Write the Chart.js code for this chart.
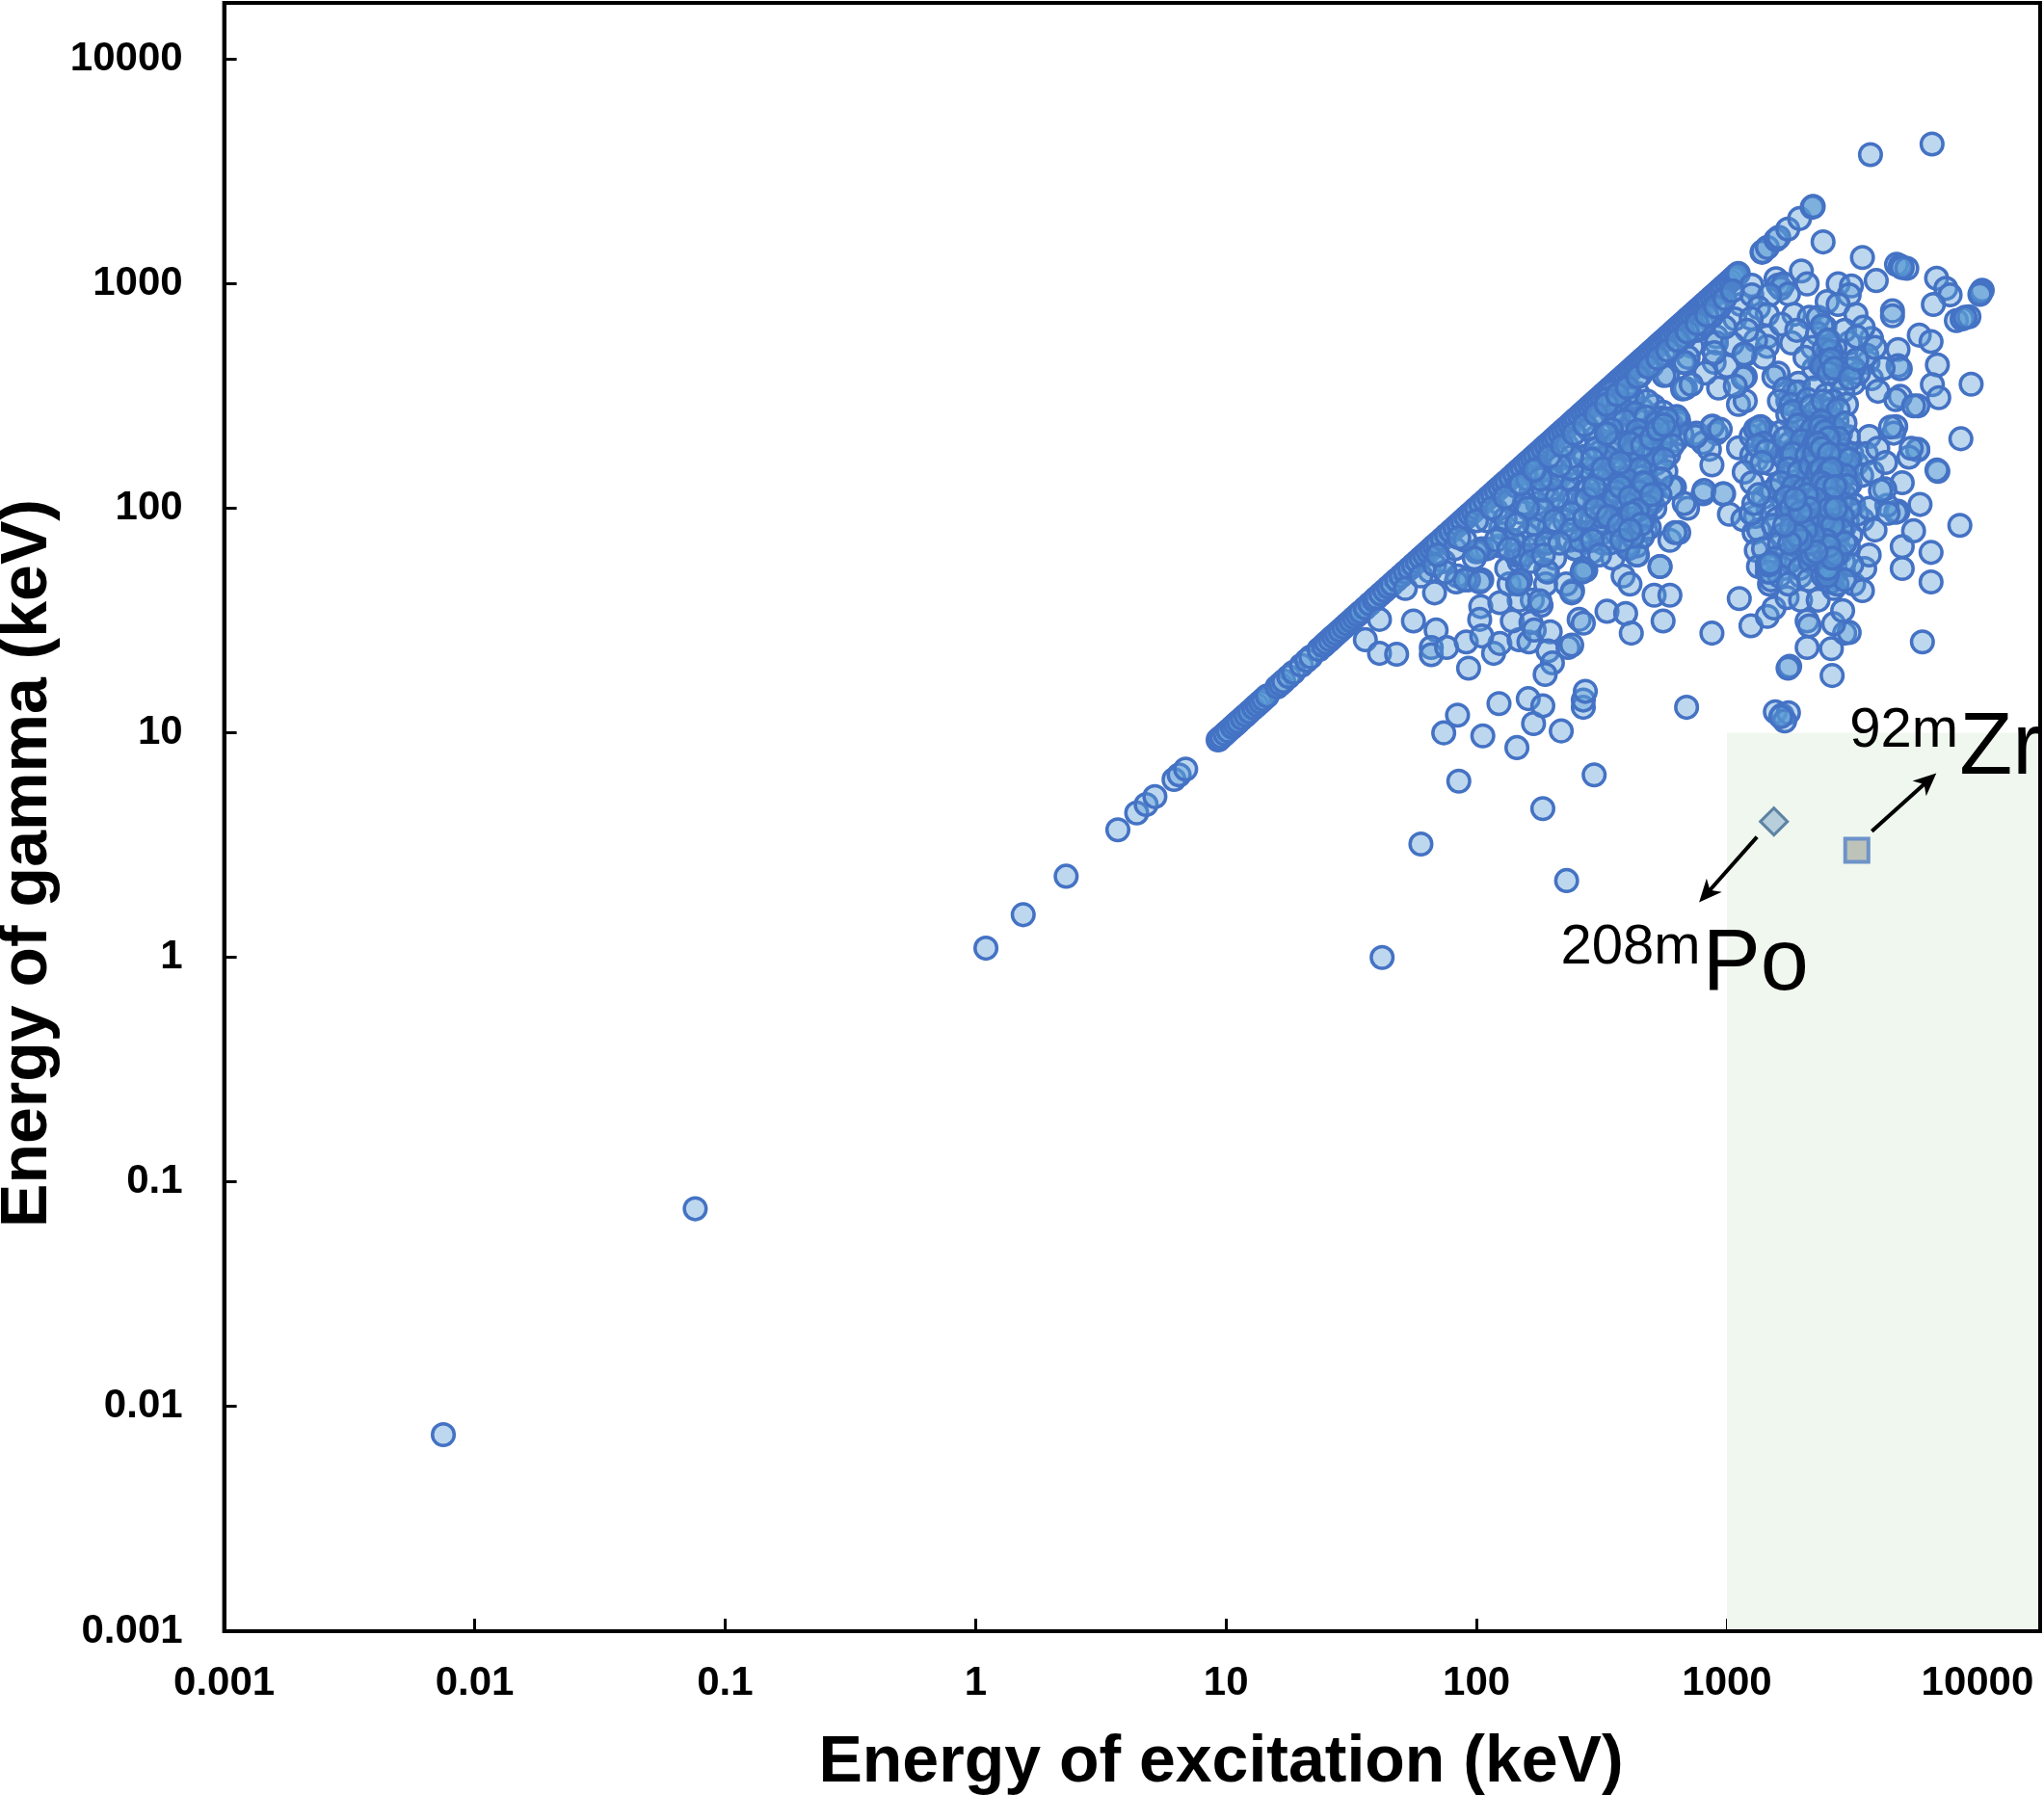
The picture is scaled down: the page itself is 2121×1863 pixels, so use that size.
<!DOCTYPE html>
<html>
<head>
<meta charset="utf-8">
<style>
  html, body { margin: 0; padding: 0; background: #fff; }
  canvas { display: block; }
</style>
<script src="https://cdn.jsdelivr.net/npm/chart.js@4/dist/chart.umd.min.js"></script>
</head>
<body>
<canvas id="chart" width="2121" height="1863"></canvas>
<script>
// axis ticks
const tickValues = [0.001, 0.01, 0.1, 1, 10, 100, 1000, 10000];
const tickLabels = ['0.001', '0.01', '0.1', '1', '10', '100', '1000', '10000'];
const axisMin = 0.001;
const axisMax = 17800;

// isomers with gamma = excitation, only one number each
const loneEnergy = [0.0075, 0.076, 1.1, 1.55, 2.3, 3.7, 4.4, 4.8, 5.2, 6.2, 6.5, 6.9];
const lineEnergy = [9.3,9.4,9.6,9.9,10.2,10.6,10.9,11.2,11.6,12,12.4,12.9,13.3,13.7,14.1,14.6,16,16.5,17,17.8,18.6,20,21,21.8,23.5,24.5,25.2,26,26.8,27.6,28.5,29.5,30.5,31.5,32.5,33.5,34.5,36,37.5,39,40,41.5,43,44.5,46,48,50,52,54,56,58,60,62,64,66,68,70,73,76,79,82,85,88,91,94,97,100,104,108,112,116,120,124,128,132,137,142,147,152,157,162,167,172,178,184,190,196,202,208,215,222,229,236,243,250,258,266,274,282,290,298,306,315,324,333,342,352,362,372,382,392,403,414,425,436,448,460,472,485,498,512,526,540,555,570,585,600,617,634,650,668,686,705,725,745,765,785,805,825,845,870,895,920,945,970,1000,1030,1060,1080,1100,1110,1380,1390,1450,1570,1610,1750,1950,2190,2200,2210];

// [excitation, gamma] in keV
const farDots = [[42,1],[60,3.2],[229,2.2],[184,4.6],[85,6.1],[295,6.5],[74,10],[106,9.7],[145,8.6],[218,10.2],[169,11],[84,12],[123,13.5],[161,14.2],[184,13.2],[267,13],[267,14],[272,15.3],[690,13],[1560,12.4],[1660,12],[1760,12.3],[1700,11.3],[1640,11.8],[1780,19.8],[2630,18],[6030,25.4]];

const lowerDots = [[41,32],[36,26],[41,22.6],[48,22.4],[56,31.5],[69,28.7],[66,24],[66,22.3],[76,24],[91,25.4],[117,22.6],[93,19.4],[124,25],[104,36.5],[103,32],[105,27],[148,26],[162,25.4],[139,31.5],[165,31],[170,28.7],[197,28.2],[193,23.2],[201,20.5],[188,18.2],[232,24],[240,24.6],[257,32],[267,30.8],[332,34.8],[394,34],[415,27.8],[556,31.5],[512,41],[592,41],[541,55],[871,27.8],[1120,39.6],[1247,30],[1449,33],[1541,36],[1738,40],[1967,39],[2090,31.5],[2133,30],[2090,24],[2612,23.7],[2951,27.8],[3076,28],[2667,30.6],[2313,39],[2897,35],[1754,19.4],[189,53],[189,46],[147,47],[135,46],[132,54],[148,58],[148,68],[124,68],[105,66],[105,48],[93,48],[84,50],[68,42],[65,52.5],[74,58],[242,43],[273,53],[247,66],[273,71],[321,78],[193,71],[176,80],[167,39],[181,37],[148,39],[124,38],[228,46],[394,68],[385,50],[410,46],[436,62],[436,68],[474,80],[474,90],[502,106],[592,72],[642,78],[696,100],[617,124],[803,116],[964,116],[1023,94],[1158,89],[1283,78],[1310,65],[1336,55],[1479,46],[1449,52],[1811,59],[1967,50],[2223,62],[2612,49],[2667,44],[3206,46],[3475,43],[3548,54],[3698,62],[3475,89]];

const rightDots = [[5010,54],[6530,47],[6530,63.6],[5010,67.6],[5560,79.4],[8510,84],[5900,104],[6950,146],[8590,204],[4820,97],[4720,96],[4348,103],[5010,130],[4266,122],[5780,182],[6890,148],[5780,183],[5330,169],[4720,231],[4630,216],[3698,209],[3741,3758],[6590,4190],[2420,1535],[3475,1309],[3945,1033],[4755,1219],[4920,1200],[5224,1170],[5010,1180],[6870,1057],[7480,953],[7780,892],[6670,808],[10450,935],[10320,914],[10230,897],[8240,685],[8690,697],[9250,713],[8930,708],[5860,590],[6530,553],[6920,435],[9440,357],[6610,355],[7010,311],[5780,286],[4920,315],[4720,305],[4580,757],[4580,720],[3776,571],[4820,509],[4820,432],[4920,418],[5560,286],[5440,185]];

const upperDots = [[1256,984],[1135,808],[1076,697],[1256,892],[1570,1052],[1600,984],[1640,953],[1680,1000],[1760,900],[1982,1140],[2090,998],[1479,892],[1336,782],[1449,731],[1850,731],[2133,708],[2460,641],[2313,708],[2780,998],[3140,977],[3076,892],[2512,832],[2780,808],[3273,731],[1449,581],[1449,526],[1811,545],[1183,484],[907,581],[907,545],[725,526],[668,447],[889,447],[579,392],[682,343],[926,343],[1183,385],[1160,380],[1600,400],[1540,385],[1112,290],[1183,301],[1927,360],[2223,418],[2512,447],[3657,447],[3620,480],[3776,378],[4010,332],[3076,545],[2700,520],[2560,480],[1112,186],[1256,172],[1310,163],[1363,231],[1336,221],[1449,218],[871,231],[907,216],[755,216],[803,196],[851,183],[871,156],[1172,145],[628,247],[642,240],[2300,600],[2400,650],[2550,560],[2350,440],[2650,430],[2800,380],[3000,420],[3200,360],[3350,400],[2950,620],[2200,520],[2050,470],[1750,300],[1850,330],[1300,560],[1400,470],[1250,700],[1650,660],[1900,620],[1200,620],[1050,540],[980,640],[840,700],[760,620],[700,470],[640,560],[820,400],[1000,430],[1080,350],[1170,487],[4200,420],[3900,520],[3500,640],[3300,580],[2480,470],[2530,500],[2460,430],[2570,455],[2500,420],[2440,510],[2600,500],[2520,560]];

// the dense patch at x 100 - 600 keV
const patchLow = [[318,305],[345,330],[395,312],[440,325],[330,282],[372,270],[415,290],[460,275],[510,286],[555,268],[320,238],[360,250],[405,232],[450,246],[495,228],[545,252],[600,236],[640,248],[300,208],[340,198],[385,212],[428,200],[472,214],[520,196],[570,210],[625,200],[660,214],[310,178],[355,186],[400,172],[445,184],[490,170],[535,182],[585,174],[260,162],[300,152],[345,164],[385,150],[430,160],[475,148],[520,158],[570,146],[215,138],[250,128],[290,140],[330,126],[370,136],[415,124],[455,138],[495,122],[165,118],[195,110],[230,120],[265,108],[305,116],[345,106],[385,118],[430,104],[470,114],[515,100],[150,96],[180,90],[215,98],[250,88],[285,94],[325,86],[365,98],[405,84],[445,92],[490,82],[125,82],[160,76],[195,82],[235,72],[275,78],[320,70],[360,78],[400,68],[620,78],[110,66],[144,62],[148,63],[155,62],[100,64],[102,65],[127,77],[170,68],[248,66],[205,60],[290,64],[350,60],[403,66],[439,62],[192,52],[266,53],[268,54],[264,52],[148,47],[150,48],[146,46],[240,42],[179,38.7],[83,47],[90,48],[103,47],[540,55],[52,44],[60,50],[68,56],[75,52],[82,66],[90,72],[98,60],[110,88],[120,98],[135,108],[145,125],[160,135],[175,150],[190,140],[210,170],[230,190],[255,205],[280,225],[310,260],[350,300],[400,350],[450,390],[500,430],[560,480],[620,520],[680,580],[740,620],[800,660],[870,720],[930,780],[560,390],[665,340],[720,356],[680,445],[890,493],[630,256],[750,209],[875,232],[940,225],[810,120],[970,116],[600,124],[675,105],[494,109],[465,91],[330,305],[420,310],[370,295],[480,300],[350,260],[430,265],[390,245],[475,255],[525,240],[575,250],[345,225],[440,222],[510,215],[590,218],[360,195],[450,205],[545,195],[605,190],[330,170],[420,180],[510,175],[560,165],[280,150],[360,150],[450,150],[545,135],[230,135],[310,135],[395,135],[475,128],[200,122],[280,122],[360,118],[450,118],[540,115],[175,105],[245,108],[320,100],[400,105],[480,102],[170,85],[225,88],[300,80],[380,88],[460,75],[140,72],[190,70],[260,72],[340,70],[420,75],[155,105],[185,120],[210,112],[240,95],[275,110],[295,125],[315,92],[355,110],[375,125],[410,112],[440,98],[465,130],[500,115],[185,98],[205,88],[240,80],[270,90],[300,100],[335,92],[370,84],[415,95],[455,85],[200,135],[240,150],[270,170],[300,185],[330,215],[290,165],[320,150],[375,160],[410,195],[460,190],[500,205],[530,225],[560,235],[240,170],[215,155],[180,135],[160,100],[130,90],[145,85],[120,72],[135,66],[165,58],[185,62],[215,70],[290,72],[310,62],[380,72],[410,80]];

// just under the gamma = excitation line
const bandDots = [[70,62],[85,74],[100,88],[115,100],[130,112],[150,128],[170,148],[195,170],[220,190],[245,215],[270,235],[300,262],[330,290],[365,320],[400,345],[440,385],[485,425],[530,465],[580,505],[635,560],[695,610],[760,665],[830,725],[900,790],[980,860],[1050,930]];

// the dense patch at x 1500 - 3500 keV
const patchHigh = [[1700,340],[1930,330],[2240,345],[2500,320],[2900,335],[1620,300],[1800,290],[2100,305],[2350,285],[2650,300],[3000,290],[1750,262],[1980,250],[2240,268],[2480,255],[2750,245],[2100,240],[2600,275],[1640,218],[1880,228],[2060,210],[2300,222],[2420,205],[2580,232],[2840,215],[3050,208],[1560,180],[1780,195],[1950,185],[2150,198],[2330,178],[2500,190],[2700,200],[2920,182],[3150,175],[1480,158],[1690,168],[1850,152],[2030,164],[2230,148],[2400,168],[2560,155],[2780,162],[3010,150],[3300,158],[1600,128],[1770,140],[1900,132],[2100,138],[2290,126],[2470,142],[2650,130],[2860,136],[3100,128],[3450,140],[1400,112],[1520,120],[1680,108],[1830,118],[1990,110],[2170,120],[2350,106],[2540,116],[2720,108],[2950,114],[3200,104],[1300,92],[1460,100],[1590,90],[1740,98],[1910,88],[2080,96],[2260,90],[2430,100],[2620,92],[2800,98],[3020,88],[3300,94],[1340,80],[1530,84],[1660,76],[1810,82],[2000,78],[2190,84],[2370,76],[2570,82],[2760,74],[2930,82],[3120,76],[1400,66],[1620,70],[1720,62],[1880,68],[2050,64],[2240,70],[2460,64],[2640,70],[2850,64],[3050,68],[1450,56],[1560,60],[1680,54],[1790,58],[1950,54],[2150,58],[2340,54],[2520,60],[2700,56],[2920,58],[3150,56],[1500,48],[1620,50],[1760,46],[2120,48],[2420,50],[2590,47],[2640,51],[2600,53],[2750,46],[2950,48],[1480,52],[2510,447],[2400,430],[2600,460],[2550,400],[2680,420],[3200,420],[3100,380],[3300,460],[2520,52],[2510,50],[2530,54],[1470,56],[1490,57],[2100,210],[1800,176],[2550,108],[1250,210],[1300,225],[1350,230],[1400,195],[1320,190],[1440,180],[1380,160],[1250,95],[1260,130],[1280,105],[1340,115],[3600,175],[3700,100],[3800,145],[3900,80],[4000,185],[4100,120],[4300,160],[4400,95],[4500,230],[1830,270],[2170,285],[2420,300],[2780,275],[1920,235],[2190,225],[2390,245],[2680,228],[2960,240],[1700,205],[1990,200],[2210,190],[2440,212],[2630,185],[2790,205],[1830,175],[2090,172],[2280,165],[2480,175],[2650,165],[2880,172],[3080,165],[1760,150],[1940,145],[2160,155],[2340,142],[2510,130],[2720,145],[2960,140],[1650,130],[1840,125],[2040,122],[2220,128],[2400,120],[2590,124],[2790,122],[3020,126],[1730,112],[1920,104],[2110,108],[2300,112],[2460,110],[2660,114],[2850,106],[3080,100],[1800,100],[2010,92],[2190,100],[2370,90],[2530,96],[2710,88],[2890,92],[1950,82],[2120,74],[2310,80],[2480,84],[2680,78],[2860,80],[1850,72],[2020,68],[2180,62],[2400,66],[2580,64],[2750,62],[2960,70],[2280,205],[2360,230],[2460,220],[2540,205],[2240,175],[2310,195],[2390,185],[2560,175],[2300,145],[2380,150],[2440,135],[2540,145],[2620,150],[2320,115],[2390,130],[2500,125],[2600,110],[2700,125],[2260,110],[2430,88],[2570,100],[2640,84],[2720,100],[2490,72],[2550,68],[2630,60],[2100,88],[2150,70],[2210,76],[2270,64],[2060,80],[2080,115],[2130,100],[1980,72],[1900,76],[1780,70],[1700,84],[1960,96],[1870,110]];

const poDot = [[1540, 4.03]];
const zrDot = [[3300, 3]];

// shaded window, in keV
const windowX = [1000, axisMax];
const windowY = [axisMin, 10];

// annotation anchors, in keV
const zrMassAt = [3090, 8.71];
const zrNameAt = [8470, 6.61];
const poMassAt = [217, 0.94];
const poNameAt = [800, 0.72];
const zrArrow = [[3788, 3.65], [6855, 6.61]];
const poArrow = [[1318, 3.44], [774, 1.76]];

const xTitle = 'Energy of excitation (keV)';
const yTitle = 'Energy of gamma (keV)';

const toPoint = p => ({ x: p[0], y: p[1] });
const circleDots = loneEnergy.concat(lineEnergy).map(v => ({ x: v, y: v }))
  .concat(farDots.map(toPoint), lowerDots.map(toPoint), rightDots.map(toPoint),
    upperDots.map(toPoint), patchLow.map(toPoint), bandDots.map(toPoint), patchHigh.map(toPoint));

function drawArrow(ctx, x0, y0, x1, y1) {
  const a = Math.atan2(y1 - y0, x1 - x0);
  ctx.strokeStyle = '#000';
  ctx.fillStyle = '#000';
  ctx.lineWidth = 4;
  ctx.beginPath();
  ctx.moveTo(x0, y0);
  ctx.lineTo(x1 - 12 * Math.cos(a), y1 - 12 * Math.sin(a));
  ctx.stroke();
  ctx.beginPath();
  ctx.moveTo(x1, y1);
  ctx.lineTo(x1 - 26 * Math.cos(a - 0.42), y1 - 26 * Math.sin(a - 0.42));
  ctx.lineTo(x1 - 17 * Math.cos(a), y1 - 17 * Math.sin(a));
  ctx.lineTo(x1 - 26 * Math.cos(a + 0.42), y1 - 26 * Math.sin(a + 0.42));
  ctx.closePath();
  ctx.fill();
}

const windowPlugin = {
  id: 'windowPlugin',
  beforeDatasetsDraw(chart) {
    const { ctx, scales: { x, y } } = chart;
    ctx.save();
    ctx.fillStyle = '#eff7ee';
    const left = x.getPixelForValue(windowX[0]);
    const top = y.getPixelForValue(windowY[1]);
    ctx.fillRect(left, top, x.getPixelForValue(windowX[1]) - left, y.getPixelForValue(windowY[0]) - top);
    ctx.restore();
  }
};

const notesPlugin = {
  id: 'notesPlugin',
  afterDatasetsDraw(chart) {
    const { ctx, chartArea: area, scales: { x, y } } = chart;
    const text = (str, at, font) => {
      ctx.font = font;
      ctx.fillText(str, x.getPixelForValue(at[0]), y.getPixelForValue(at[1]));
    };
    const arrow = a => drawArrow(ctx, x.getPixelForValue(a[0][0]), y.getPixelForValue(a[0][1]),
      x.getPixelForValue(a[1][0]), y.getPixelForValue(a[1][1]));

    ctx.save();
    // Zr runs off the plot in the original
    ctx.beginPath();
    ctx.rect(area.left, area.top, area.width, area.height);
    ctx.clip();
    ctx.fillStyle = '#000';
    ctx.textAlign = 'left';
    ctx.textBaseline = 'alphabetic';
    const sup = '58px "Liberation Sans"';
    const big = '90px "Liberation Sans"';
    text('92m', zrMassAt, sup);
    text('Zr', zrNameAt, big);
    text('208m', poMassAt, sup);
    text('Po', poNameAt, big);
    arrow(zrArrow);
    arrow(poArrow);
    ctx.restore();

    // frame
    ctx.save();
    ctx.strokeStyle = '#000';
    ctx.lineWidth = 4;
    ctx.strokeRect(area.left, area.top, area.width, area.height);
    ctx.restore();

    // axis titles sit off centre, so they are placed here
    ctx.save();
    ctx.fillStyle = '#000';
    ctx.font = 'bold 68px "Liberation Sans"';
    ctx.textAlign = 'center';
    ctx.textBaseline = 'middle';
    ctx.fillText(xTitle, 1267, 1830);
    ctx.translate(29, 896);
    ctx.rotate(-Math.PI / 2);
    ctx.fillText(yTitle, 0, 0);
    ctx.restore();
  }
};

// fixed box for the axis, and no room kept for labels that hang over the ends
function fixBox(s, w, h) {
  if (w) s.width = w;
  if (h) s.height = h;
  s.paddingLeft = s.paddingRight = s.paddingTop = s.paddingBottom = 0;
}

function axis(labelPadding, fitFn) {
  return {
    type: 'logarithmic',
    min: axisMin,
    max: axisMax,
    border: { display: true, color: '#000', width: 4 },
    grid: { drawOnChartArea: false, color: '#000', tickColor: '#000', tickWidth: 3, tickLength: -13 },
    ticks: {
      color: '#000',
      padding: labelPadding,
      autoSkip: false,
      maxRotation: 0,
      font: { family: '"Liberation Sans"', weight: 'bold', size: 42 },
      callback: v => tickLabels[tickValues.indexOf(v)]
    },
    afterBuildTicks: s => { s.ticks = tickValues.map(v => ({ value: v })); },
    afterFit: fitFn
  };
}

new Chart(document.getElementById('chart'), {
  type: 'scatter',
  data: {
    datasets: [
      { data: circleDots, pointRadius: 11.3, borderWidth: 3.5, borderColor: '#4472c4', backgroundColor: 'rgba(91,155,213,0.4)' },
      { data: poDot.map(toPoint), pointStyle: 'rectRot', pointRadius: 14, borderWidth: 3, borderColor: '#5e83a4', backgroundColor: '#b7cedc' },
      { data: zrDot.map(toPoint), pointStyle: 'rect', pointRadius: 17, borderWidth: 4, borderColor: '#6d93c9', backgroundColor: '#bdc3b9' }
    ]
  },
  options: {
    responsive: false,
    devicePixelRatio: 1,
    animation: false,
    layout: { autoPadding: false, padding: { top: 3, right: 4, left: 0, bottom: 0 } },
    plugins: { legend: { display: false }, tooltip: { enabled: false } },
    scales: {
      x: axis(42, s => fixBox(s, 0, 170)),
      y: axis(56, s => fixBox(s, 232.6, 0))
    }
  },
  plugins: [windowPlugin, notesPlugin]
});
</script>
</body>
</html>
